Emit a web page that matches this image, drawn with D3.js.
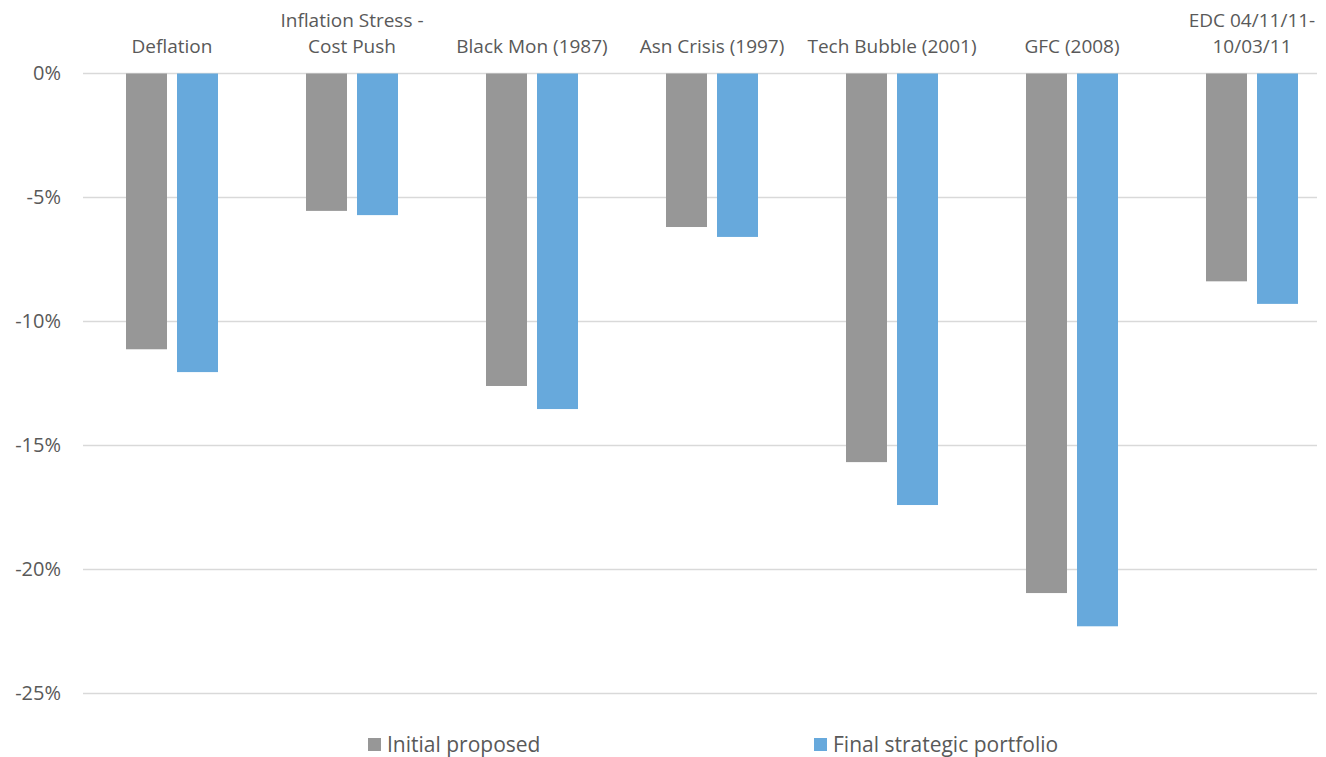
<!DOCTYPE html>
<html>
<head>
<meta charset="utf-8">
<script src="https://cdn.jsdelivr.net/npm/d3@7/dist/d3.min.js"></script>
<style>
  html, body { margin: 0; padding: 0; background: #fff; }
  svg { display: block; font-family: "Open Sans", "Noto Sans", sans-serif; }
</style>
</head>
<body>
<svg id="chart" width="1326" height="757"></svg>
<script>
// Stress scenarios (category labels, split over lines)
const categories = [
  ["Deflation"],
  ["Inflation Stress -", "Cost Push"],
  ["Black Mon (1987)"],
  ["Asn Crisis (1997)"],
  ["Tech Bubble (2001)"],
  ["GFC (2008)"],
  ["EDC 04/11/11-", "10/03/11"]
];
const seriesNames = ["Initial proposed", "Final strategic portfolio"];
const initialProposed = [-0.1112, -0.0554, -0.1260, -0.0619, -0.1567, -0.2095, -0.0838];
const finalStrategic  = [-0.1204, -0.0571, -0.1353, -0.0659, -0.1740, -0.2229, -0.0929];
const yTicks = [0, -0.05, -0.10, -0.15, -0.20, -0.25];
const colors = ["#979797", "#67a9dc"];

const svg = d3.select("#chart");
const grid = { left: 83, right: 1317 };
const plot = { left: 82, right: 1342, top: 73.5, bottom: 693.5 };

const x = d3.scaleBand()
  .domain(d3.range(categories.length))
  .range([plot.left, plot.right]);

const y = d3.scaleLinear()
  .domain([0, -0.25])
  .range([plot.top, plot.bottom]);

const barW = 41;
const gap = 10;

// Horizontal gridlines
svg.append("g")
  .selectAll("line")
  .data(yTicks)
  .join("line")
  .attr("x1", grid.left)
  .attr("x2", grid.right)
  .attr("y1", d => y(d))
  .attr("y2", d => y(d))
  .attr("stroke", "#d9d9d9")
  .attr("stroke-width", 1.3);

// Y axis labels
const yAxis = d3.axisLeft(y)
  .tickValues(yTicks)
  .tickFormat(d => Math.round(d * 100) + "%")
  .tickSize(0)
  .tickPadding(0);
const yG = svg.append("g")
  .attr("transform", `translate(61,0)`)
  .call(yAxis);
yG.select(".domain").remove();
yG.selectAll("text")
  .attr("fill", "#595959")
  .style("font-size", "20px")
  .style("font-family", "'Open Sans', sans-serif");

// Bars
const series = [initialProposed, finalStrategic];
series.forEach((vals, si) => {
  svg.append("g")
    .selectAll("rect")
    .data(vals)
    .join("rect")
    .attr("x", (d, i) => x(i) + x.bandwidth() / 2 + (si === 0 ? -(barW + gap / 2) : gap / 2))
    .attr("y", d => y(0))
    .attr("width", barW)
    .attr("height", d => y(d) - y(0))
    .attr("fill", colors[si]);
});

// Category labels along the top
const catG = svg.append("g");
categories.forEach((lines, i) => {
  const cx = x(i) + x.bandwidth() / 2;
  const baseY = 53;
  const lineH = 26;
  const t = catG.append("text")
    .attr("text-anchor", "middle")
    .attr("fill", "#595959")
    .style("font-size", "19px");
  lines.forEach((ln, j) => {
    t.append("tspan")
      .attr("x", cx)
      .attr("y", baseY - (lines.length - 1 - j) * lineH)
      .text(ln);
  });
});

// Legend
const legendItems = [
  { name: seriesNames[0], color: colors[0], x: 368 },
  { name: seriesNames[1], color: colors[1], x: 814 }
];
const lg = svg.append("g");
legendItems.forEach(it => {
  lg.append("rect")
    .attr("x", it.x)
    .attr("y", 738)
    .attr("width", 13)
    .attr("height", 13)
    .attr("fill", it.color);
  lg.append("text")
    .attr("x", it.x + 19)
    .attr("y", 751.5)
    .attr("fill", "#595959")
    .style("font-size", "21px")
    .text(it.name);
});
</script>
</body>
</html>
